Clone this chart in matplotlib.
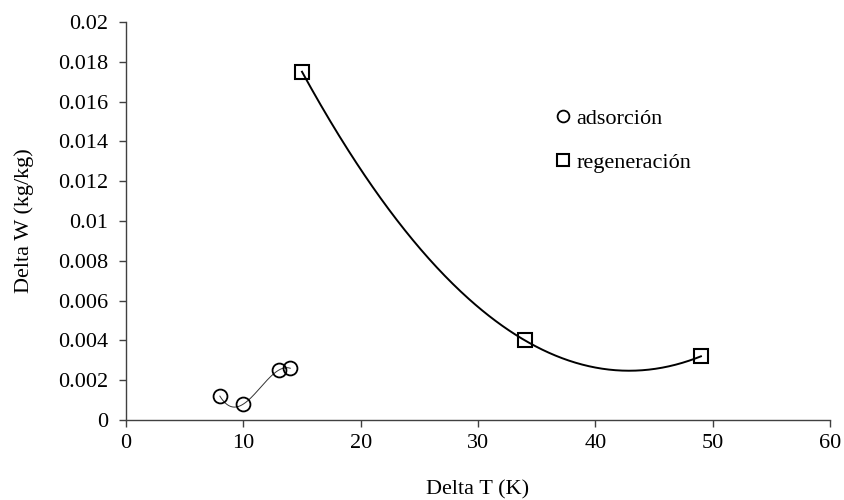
import numpy as np
import matplotlib
matplotlib.use("Agg")
import matplotlib.pyplot as plt

plt.rcParams['font.family'] = ['Liberation Serif', 'DejaVu Serif']

ads_x = [8, 10, 13, 14]
ads_y = [0.0012, 0.0008, 0.0025, 0.0026]
reg_x = [15, 34, 49]
reg_y = [0.0175, 0.0040, 0.0032]

fig = plt.figure(figsize=(8.44, 5.0), dpi=100)
ax = fig.add_axes([126/844, 1-420/500, (830-126)/844, (420-22)/500])

# polynomial trendlines (through all points)
pa = np.polyfit(ads_x, ads_y, 3)
xa = np.linspace(min(ads_x), max(ads_x), 200)
ax.plot(xa, np.polyval(pa, xa), color='#333333', lw=0.7, zorder=2)
pr = np.polyfit(reg_x, reg_y, 2)
xr = np.linspace(min(reg_x), max(reg_x), 300)
ax.plot(xr, np.polyval(pr, xr), color='black', lw=1.4, zorder=2)

ax.plot(ads_x, ads_y, linestyle='none', marker='o', ms=10, mfc='none',
        mec='black', mew=1.3, label='adsorción', zorder=3)
ax.plot(reg_x, reg_y, linestyle='none', marker='s', ms=10, mfc='none',
        mec='black', mew=1.5, label='regeneración', zorder=3)

ax.set_xlim(0, 60)
ax.set_ylim(0, 0.02)
ax.set_xticks(range(0, 61, 10))
ax.set_yticks(np.arange(0, 0.0201, 0.002))
ax.set_yticklabels(['0', '0.002', '0.004', '0.006', '0.008', '0.01', '0.012',
                    '0.014', '0.016', '0.018', '0.02'])
for s in ['top', 'right']:
    ax.spines[s].set_visible(False)
for s in ['left', 'bottom']:
    ax.spines[s].set_color('#404040')
    ax.spines[s].set_linewidth(1.0)
ax.tick_params(direction='out', length=5, width=1.0, color='#404040',
               labelsize=16, labelcolor='black')
ax.tick_params(axis='y', pad=8)
ax.tick_params(axis='x', pad=5)
ax.set_xlabel('Delta T (K)', fontsize=16, labelpad=20)
ax.set_ylabel('Delta W (kg/kg)', fontsize=16, labelpad=17)

ax.legend(loc='upper left', bbox_to_anchor=(0.583, 0.833), frameon=False,
          fontsize=16, handlelength=0.6, handletextpad=0.3, labelspacing=1.05,
          markerscale=0.85)

fig.savefig('out.png', dpi=100)
